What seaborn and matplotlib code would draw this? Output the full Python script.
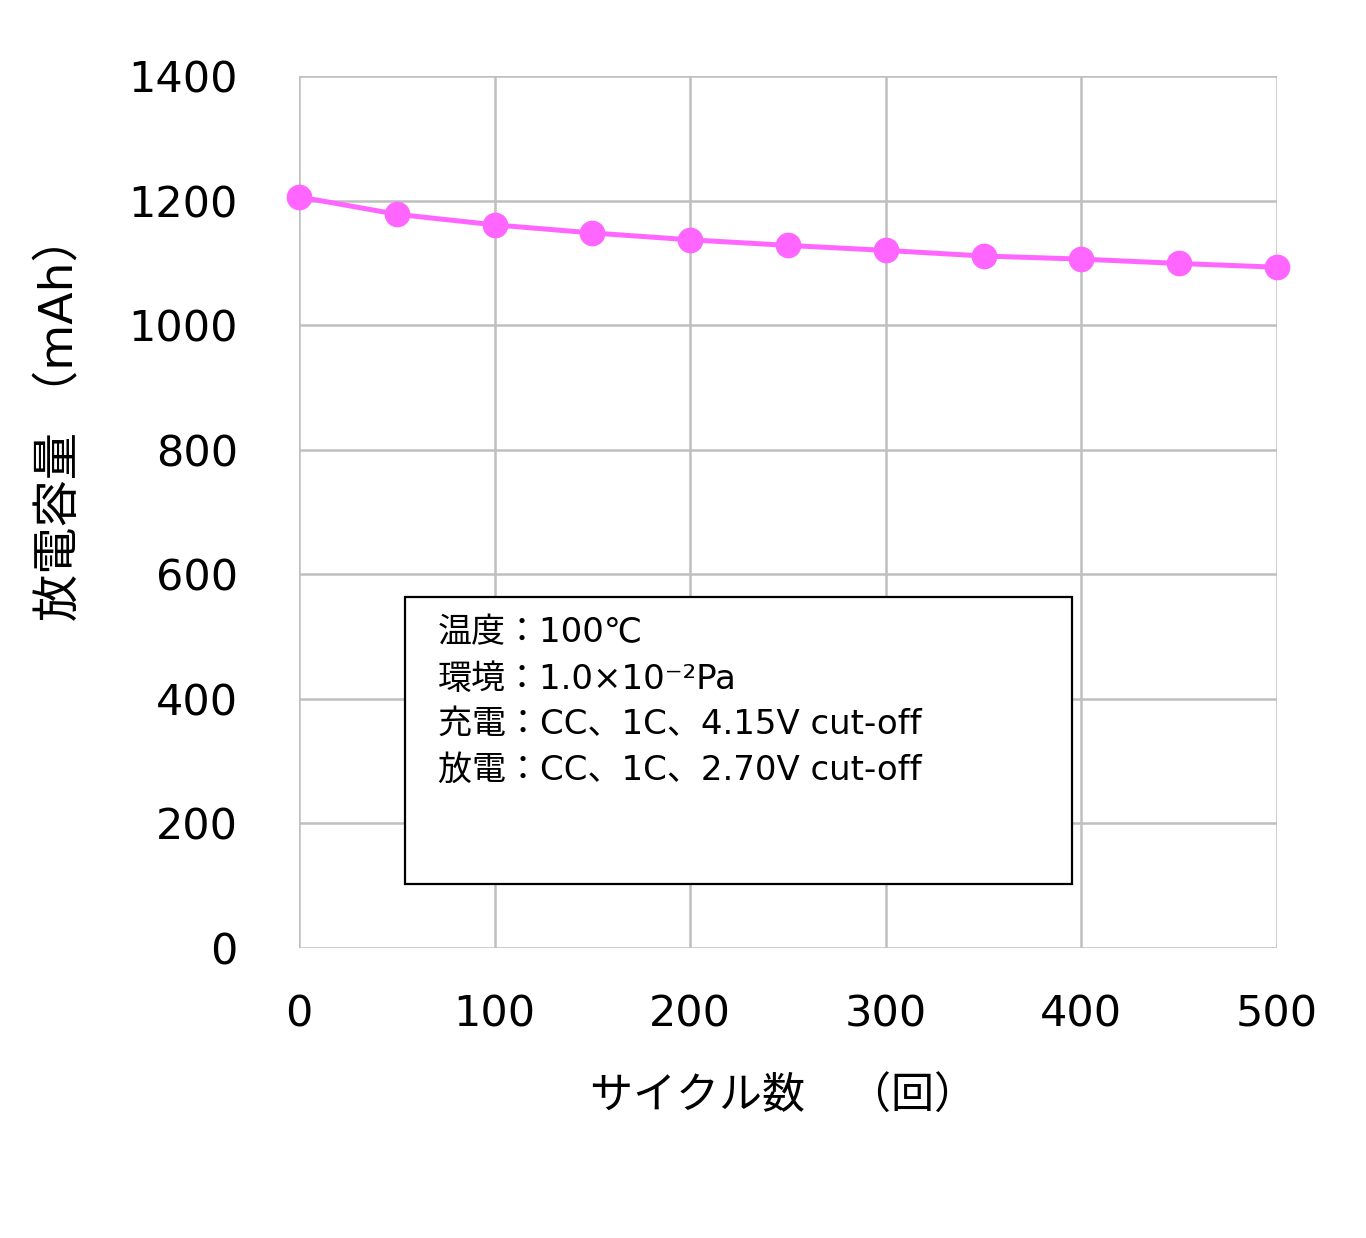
import matplotlib
matplotlib.use("Agg")
import matplotlib.pyplot as plt
import seaborn as sns
import pandas as pd
from matplotlib.patches import Rectangle

cycles = [0, 50, 100, 150, 200, 250, 300, 350, 400, 450, 500]
capacity = [1206, 1178, 1161, 1148, 1137, 1128, 1120, 1111, 1106, 1099, 1093]
x_ticks = [0, 100, 200, 300, 400, 500]
y_ticks = [0, 200, 400, 600, 800, 1000, 1200, 1400]
x_label = "サイクル数　（回）"
y_label = "放電容量 （mAh）"
note_lines = ["温度：100℃", "環境：1.0×10⁻²Pa", "充電：CC、1C、4.15V cut-off", "放電：CC、1C、2.70V cut-off"]

sns.set_theme(style="whitegrid")
plt.rcParams['font.family'] = ['DejaVu Sans', 'Noto Sans CJK JP']
plt.rcParams['text.color'] = 'black'
plt.rcParams['axes.labelcolor'] = 'black'

df = pd.DataFrame({"cycle": cycles, "cap": capacity})

fig = plt.figure(figsize=(13.66, 12.38), dpi=100)
ax = fig.add_axes([299/1366, 1-948/1238, 978/1366, 872/1238])
sns.lineplot(data=df, x="cycle", y="cap", ax=ax, color="#FF66FF", linewidth=3.6,
             marker="o", markersize=18.5, markeredgewidth=0, zorder=5, clip_on=False)

ax.set_xlim(0, 500)
ax.set_ylim(0, 1400)
ax.set_xticks(x_ticks)
ax.set_yticks(y_ticks)
ax.grid(True, color="#BFBFBF", linewidth=1.8)
for s in ax.spines.values():
    s.set_visible(False)
ax.tick_params(axis="both", length=0, labelsize=31, colors="black")
ax.tick_params(axis="x", pad=33)
ax.tick_params(axis="y", pad=44)
ax.set_xlabel(x_label, fontsize=31)
ax.set_ylabel(y_label, fontsize=34)
ax.xaxis.set_label_coords((783-299)/978, -(1097-948)/872)
ax.yaxis.set_label_coords(-(299-60)/978, (948-418)/872)
ax.xaxis.label.set_va("center")
ax.yaxis.label.set_va("center")

rect = Rectangle((106/978, 64/872), 667/978, 287/872, transform=ax.transAxes,
                 facecolor="white", edgecolor="black", linewidth=1.6, zorder=6)
ax.add_patch(rect)
ys = [633, 679, 724, 770]
for t, yy in zip(note_lines, ys):
    fig.text(438/1366, 1-yy/1238, t, fontsize=24.5, va="center", ha="left", zorder=7)

fig.savefig("out.png", dpi=100, facecolor="white")
